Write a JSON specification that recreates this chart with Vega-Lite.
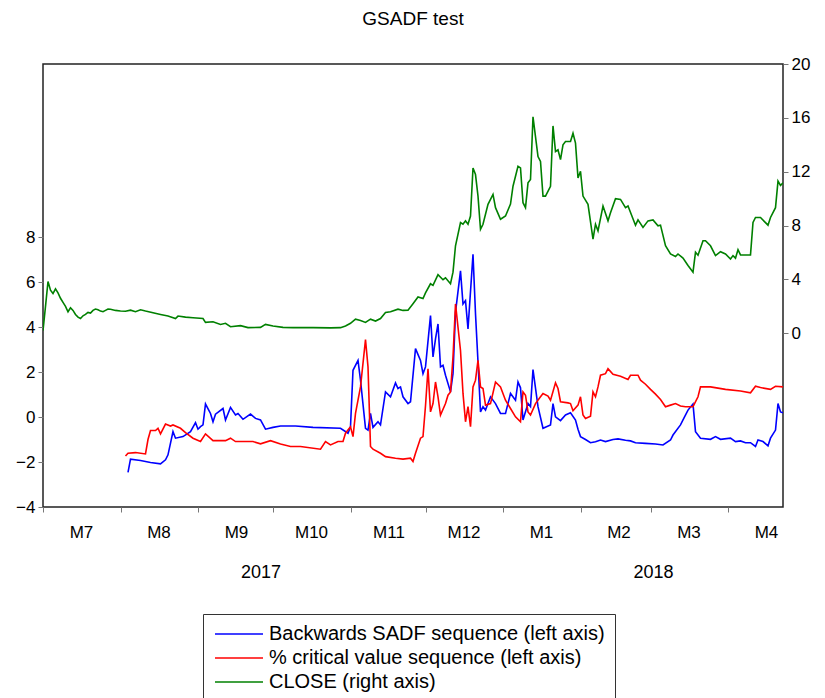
{
  "$schema": "https://vega.github.io/schema/vega-lite/v6.json",
  "width": 740,
  "height": 443,
  "autosize": "none",
  "padding": {"left": 43, "top": 64, "right": 42, "bottom": 191},
  "background": "white",
  "title": {"text": "GSADF test", "font": "Liberation Sans", "fontSize": 19, "fontWeight": "normal", "color": "black", "offset": 26, "anchor": "middle"},
  "datasets": {
    "left": [
      {"date": "2017-08-04", "series": "Backwards SADF sequence (left axis)", "value": -2.46},
      {"date": "2017-08-05", "series": "Backwards SADF sequence (left axis)", "value": -1.87},
      {"date": "2017-08-09", "series": "Backwards SADF sequence (left axis)", "value": -1.93},
      {"date": "2017-08-13", "series": "Backwards SADF sequence (left axis)", "value": -2.02},
      {"date": "2017-08-17", "series": "Backwards SADF sequence (left axis)", "value": -2.08},
      {"date": "2017-08-19", "series": "Backwards SADF sequence (left axis)", "value": -1.9},
      {"date": "2017-08-20", "series": "Backwards SADF sequence (left axis)", "value": -1.68},
      {"date": "2017-08-22", "series": "Backwards SADF sequence (left axis)", "value": -0.65},
      {"date": "2017-08-23", "series": "Backwards SADF sequence (left axis)", "value": -0.94},
      {"date": "2017-08-26", "series": "Backwards SADF sequence (left axis)", "value": -0.87},
      {"date": "2017-08-29", "series": "Backwards SADF sequence (left axis)", "value": -0.65},
      {"date": "2017-08-31", "series": "Backwards SADF sequence (left axis)", "value": -0.25},
      {"date": "2017-09-01", "series": "Backwards SADF sequence (left axis)", "value": -0.54},
      {"date": "2017-09-02", "series": "Backwards SADF sequence (left axis)", "value": -0.43},
      {"date": "2017-09-03", "series": "Backwards SADF sequence (left axis)", "value": -0.35},
      {"date": "2017-09-04", "series": "Backwards SADF sequence (left axis)", "value": 0.58},
      {"date": "2017-09-06", "series": "Backwards SADF sequence (left axis)", "value": 0.16},
      {"date": "2017-09-07", "series": "Backwards SADF sequence (left axis)", "value": -0.21},
      {"date": "2017-09-08", "series": "Backwards SADF sequence (left axis)", "value": 0.13},
      {"date": "2017-09-11", "series": "Backwards SADF sequence (left axis)", "value": 0.38},
      {"date": "2017-09-12", "series": "Backwards SADF sequence (left axis)", "value": -0.13},
      {"date": "2017-09-14", "series": "Backwards SADF sequence (left axis)", "value": 0.43},
      {"date": "2017-09-16", "series": "Backwards SADF sequence (left axis)", "value": 0.09},
      {"date": "2017-09-17", "series": "Backwards SADF sequence (left axis)", "value": 0.16},
      {"date": "2017-09-19", "series": "Backwards SADF sequence (left axis)", "value": -0.1},
      {"date": "2017-09-22", "series": "Backwards SADF sequence (left axis)", "value": 0.13},
      {"date": "2017-09-24", "series": "Backwards SADF sequence (left axis)", "value": -0.06},
      {"date": "2017-09-26", "series": "Backwards SADF sequence (left axis)", "value": -0.13},
      {"date": "2017-09-28", "series": "Backwards SADF sequence (left axis)", "value": -0.54},
      {"date": "2017-10-01", "series": "Backwards SADF sequence (left axis)", "value": -0.46},
      {"date": "2017-10-04", "series": "Backwards SADF sequence (left axis)", "value": -0.4},
      {"date": "2017-10-10", "series": "Backwards SADF sequence (left axis)", "value": -0.4},
      {"date": "2017-10-17", "series": "Backwards SADF sequence (left axis)", "value": -0.46},
      {"date": "2017-10-28", "series": "Backwards SADF sequence (left axis)", "value": -0.5},
      {"date": "2017-10-31", "series": "Backwards SADF sequence (left axis)", "value": -0.72},
      {"date": "2017-11-01", "series": "Backwards SADF sequence (left axis)", "value": -0.43},
      {"date": "2017-11-02", "series": "Backwards SADF sequence (left axis)", "value": 2.08},
      {"date": "2017-11-04", "series": "Backwards SADF sequence (left axis)", "value": 2.52},
      {"date": "2017-11-05", "series": "Backwards SADF sequence (left axis)", "value": 1.64},
      {"date": "2017-11-07", "series": "Backwards SADF sequence (left axis)", "value": -0.5},
      {"date": "2017-11-08", "series": "Backwards SADF sequence (left axis)", "value": -0.58},
      {"date": "2017-11-09", "series": "Backwards SADF sequence (left axis)", "value": 0.16},
      {"date": "2017-11-10", "series": "Backwards SADF sequence (left axis)", "value": -0.46},
      {"date": "2017-11-12", "series": "Backwards SADF sequence (left axis)", "value": -0.21},
      {"date": "2017-11-13", "series": "Backwards SADF sequence (left axis)", "value": -0.35},
      {"date": "2017-11-15", "series": "Backwards SADF sequence (left axis)", "value": 1.12},
      {"date": "2017-11-17", "series": "Backwards SADF sequence (left axis)", "value": 0.9},
      {"date": "2017-11-19", "series": "Backwards SADF sequence (left axis)", "value": 1.52},
      {"date": "2017-11-20", "series": "Backwards SADF sequence (left axis)", "value": 1.27},
      {"date": "2017-11-21", "series": "Backwards SADF sequence (left axis)", "value": 1.34},
      {"date": "2017-11-22", "series": "Backwards SADF sequence (left axis)", "value": 0.9},
      {"date": "2017-11-24", "series": "Backwards SADF sequence (left axis)", "value": 0.6},
      {"date": "2017-11-25", "series": "Backwards SADF sequence (left axis)", "value": 0.68},
      {"date": "2017-11-27", "series": "Backwards SADF sequence (left axis)", "value": 3.04},
      {"date": "2017-11-29", "series": "Backwards SADF sequence (left axis)", "value": 2.52},
      {"date": "2017-11-30", "series": "Backwards SADF sequence (left axis)", "value": 1.93},
      {"date": "2017-12-01", "series": "Backwards SADF sequence (left axis)", "value": 2.23},
      {"date": "2017-12-03", "series": "Backwards SADF sequence (left axis)", "value": 4.51},
      {"date": "2017-12-04", "series": "Backwards SADF sequence (left axis)", "value": 2.67},
      {"date": "2017-12-05", "series": "Backwards SADF sequence (left axis)", "value": 3.48},
      {"date": "2017-12-06", "series": "Backwards SADF sequence (left axis)", "value": 4.14},
      {"date": "2017-12-07", "series": "Backwards SADF sequence (left axis)", "value": 2.23},
      {"date": "2017-12-08", "series": "Backwards SADF sequence (left axis)", "value": 2.3},
      {"date": "2017-12-09", "series": "Backwards SADF sequence (left axis)", "value": 1.86},
      {"date": "2017-12-11", "series": "Backwards SADF sequence (left axis)", "value": 1.12},
      {"date": "2017-12-12", "series": "Backwards SADF sequence (left axis)", "value": 1.93},
      {"date": "2017-12-13", "series": "Backwards SADF sequence (left axis)", "value": 4.66},
      {"date": "2017-12-15", "series": "Backwards SADF sequence (left axis)", "value": 6.5},
      {"date": "2017-12-16", "series": "Backwards SADF sequence (left axis)", "value": 5.03},
      {"date": "2017-12-17", "series": "Backwards SADF sequence (left axis)", "value": 5.18},
      {"date": "2017-12-18", "series": "Backwards SADF sequence (left axis)", "value": 3.92},
      {"date": "2017-12-20", "series": "Backwards SADF sequence (left axis)", "value": 7.24},
      {"date": "2017-12-21", "series": "Backwards SADF sequence (left axis)", "value": 4.59},
      {"date": "2017-12-22", "series": "Backwards SADF sequence (left axis)", "value": 2.45},
      {"date": "2017-12-23", "series": "Backwards SADF sequence (left axis)", "value": 0.23},
      {"date": "2017-12-24", "series": "Backwards SADF sequence (left axis)", "value": 0.46},
      {"date": "2017-12-25", "series": "Backwards SADF sequence (left axis)", "value": 0.31},
      {"date": "2017-12-27", "series": "Backwards SADF sequence (left axis)", "value": 0.9},
      {"date": "2017-12-29", "series": "Backwards SADF sequence (left axis)", "value": 0.6},
      {"date": "2017-12-31", "series": "Backwards SADF sequence (left axis)", "value": 0.16},
      {"date": "2018-01-02", "series": "Backwards SADF sequence (left axis)", "value": 0.16},
      {"date": "2018-01-04", "series": "Backwards SADF sequence (left axis)", "value": 1.05},
      {"date": "2018-01-06", "series": "Backwards SADF sequence (left axis)", "value": 0.75},
      {"date": "2018-01-07", "series": "Backwards SADF sequence (left axis)", "value": 1.56},
      {"date": "2018-01-08", "series": "Backwards SADF sequence (left axis)", "value": 1.3},
      {"date": "2018-01-09", "series": "Backwards SADF sequence (left axis)", "value": -0.13},
      {"date": "2018-01-11", "series": "Backwards SADF sequence (left axis)", "value": 0.6},
      {"date": "2018-01-12", "series": "Backwards SADF sequence (left axis)", "value": 0.46},
      {"date": "2018-01-13", "series": "Backwards SADF sequence (left axis)", "value": 2.11},
      {"date": "2018-01-15", "series": "Backwards SADF sequence (left axis)", "value": 0.46},
      {"date": "2018-01-17", "series": "Backwards SADF sequence (left axis)", "value": -0.5},
      {"date": "2018-01-20", "series": "Backwards SADF sequence (left axis)", "value": -0.35},
      {"date": "2018-01-21", "series": "Backwards SADF sequence (left axis)", "value": 0.6},
      {"date": "2018-01-22", "series": "Backwards SADF sequence (left axis)", "value": 0.01},
      {"date": "2018-01-24", "series": "Backwards SADF sequence (left axis)", "value": -0.16},
      {"date": "2018-01-26", "series": "Backwards SADF sequence (left axis)", "value": 0.09},
      {"date": "2018-01-28", "series": "Backwards SADF sequence (left axis)", "value": 0.19},
      {"date": "2018-01-30", "series": "Backwards SADF sequence (left axis)", "value": -0.13},
      {"date": "2018-01-31", "series": "Backwards SADF sequence (left axis)", "value": -0.54},
      {"date": "2018-02-01", "series": "Backwards SADF sequence (left axis)", "value": -0.87},
      {"date": "2018-02-03", "series": "Backwards SADF sequence (left axis)", "value": -1.0},
      {"date": "2018-02-05", "series": "Backwards SADF sequence (left axis)", "value": -1.14},
      {"date": "2018-02-07", "series": "Backwards SADF sequence (left axis)", "value": -1.1},
      {"date": "2018-02-09", "series": "Backwards SADF sequence (left axis)", "value": -1.02},
      {"date": "2018-02-11", "series": "Backwards SADF sequence (left axis)", "value": -1.09},
      {"date": "2018-02-14", "series": "Backwards SADF sequence (left axis)", "value": -1.0},
      {"date": "2018-02-16", "series": "Backwards SADF sequence (left axis)", "value": -0.97},
      {"date": "2018-02-19", "series": "Backwards SADF sequence (left axis)", "value": -1.03},
      {"date": "2018-02-21", "series": "Backwards SADF sequence (left axis)", "value": -1.06},
      {"date": "2018-02-23", "series": "Backwards SADF sequence (left axis)", "value": -1.14},
      {"date": "2018-02-27", "series": "Backwards SADF sequence (left axis)", "value": -1.17},
      {"date": "2018-03-03", "series": "Backwards SADF sequence (left axis)", "value": -1.2},
      {"date": "2018-03-06", "series": "Backwards SADF sequence (left axis)", "value": -1.24},
      {"date": "2018-03-09", "series": "Backwards SADF sequence (left axis)", "value": -1.02},
      {"date": "2018-03-10", "series": "Backwards SADF sequence (left axis)", "value": -0.8},
      {"date": "2018-03-13", "series": "Backwards SADF sequence (left axis)", "value": -0.35},
      {"date": "2018-03-14", "series": "Backwards SADF sequence (left axis)", "value": -0.13},
      {"date": "2018-03-16", "series": "Backwards SADF sequence (left axis)", "value": 0.31},
      {"date": "2018-03-18", "series": "Backwards SADF sequence (left axis)", "value": 0.58},
      {"date": "2018-03-19", "series": "Backwards SADF sequence (left axis)", "value": -0.65},
      {"date": "2018-03-21", "series": "Backwards SADF sequence (left axis)", "value": -0.94},
      {"date": "2018-03-25", "series": "Backwards SADF sequence (left axis)", "value": -0.99},
      {"date": "2018-03-27", "series": "Backwards SADF sequence (left axis)", "value": -0.87},
      {"date": "2018-03-29", "series": "Backwards SADF sequence (left axis)", "value": -0.99},
      {"date": "2018-04-02", "series": "Backwards SADF sequence (left axis)", "value": -0.94},
      {"date": "2018-04-04", "series": "Backwards SADF sequence (left axis)", "value": -1.09},
      {"date": "2018-04-06", "series": "Backwards SADF sequence (left axis)", "value": -1.06},
      {"date": "2018-04-08", "series": "Backwards SADF sequence (left axis)", "value": -1.14},
      {"date": "2018-04-10", "series": "Backwards SADF sequence (left axis)", "value": -1.14},
      {"date": "2018-04-12", "series": "Backwards SADF sequence (left axis)", "value": -1.31},
      {"date": "2018-04-13", "series": "Backwards SADF sequence (left axis)", "value": -1.02},
      {"date": "2018-04-15", "series": "Backwards SADF sequence (left axis)", "value": -1.09},
      {"date": "2018-04-17", "series": "Backwards SADF sequence (left axis)", "value": -1.28},
      {"date": "2018-04-18", "series": "Backwards SADF sequence (left axis)", "value": -0.94},
      {"date": "2018-04-20", "series": "Backwards SADF sequence (left axis)", "value": -0.58},
      {"date": "2018-04-21", "series": "Backwards SADF sequence (left axis)", "value": 0.6},
      {"date": "2018-04-22", "series": "Backwards SADF sequence (left axis)", "value": 0.23},
      {"date": "2018-04-23", "series": "Backwards SADF sequence (left axis)", "value": 0.19},
      {"date": "2017-08-03", "series": "% critical value sequence (left axis)", "value": -1.73},
      {"date": "2017-08-04", "series": "% critical value sequence (left axis)", "value": -1.61},
      {"date": "2017-08-07", "series": "% critical value sequence (left axis)", "value": -1.58},
      {"date": "2017-08-11", "series": "% critical value sequence (left axis)", "value": -1.64},
      {"date": "2017-08-12", "series": "% critical value sequence (left axis)", "value": -1.0},
      {"date": "2017-08-13", "series": "% critical value sequence (left axis)", "value": -0.6},
      {"date": "2017-08-15", "series": "% critical value sequence (left axis)", "value": -0.6},
      {"date": "2017-08-16", "series": "% critical value sequence (left axis)", "value": -0.5},
      {"date": "2017-08-17", "series": "% critical value sequence (left axis)", "value": -0.75},
      {"date": "2017-08-19", "series": "% critical value sequence (left axis)", "value": -0.31},
      {"date": "2017-08-21", "series": "% critical value sequence (left axis)", "value": -0.4},
      {"date": "2017-08-22", "series": "% critical value sequence (left axis)", "value": -0.35},
      {"date": "2017-08-25", "series": "% critical value sequence (left axis)", "value": -0.5},
      {"date": "2017-08-27", "series": "% critical value sequence (left axis)", "value": -0.69},
      {"date": "2017-08-30", "series": "% critical value sequence (left axis)", "value": -0.94},
      {"date": "2017-09-02", "series": "% critical value sequence (left axis)", "value": -1.09},
      {"date": "2017-09-04", "series": "% critical value sequence (left axis)", "value": -0.75},
      {"date": "2017-09-07", "series": "% critical value sequence (left axis)", "value": -1.05},
      {"date": "2017-09-12", "series": "% critical value sequence (left axis)", "value": -1.05},
      {"date": "2017-09-14", "series": "% critical value sequence (left axis)", "value": -0.94},
      {"date": "2017-09-16", "series": "% critical value sequence (left axis)", "value": -1.09},
      {"date": "2017-09-23", "series": "% critical value sequence (left axis)", "value": -1.09},
      {"date": "2017-09-26", "series": "% critical value sequence (left axis)", "value": -1.19},
      {"date": "2017-09-30", "series": "% critical value sequence (left axis)", "value": -1.05},
      {"date": "2017-10-04", "series": "% critical value sequence (left axis)", "value": -1.2},
      {"date": "2017-10-08", "series": "% critical value sequence (left axis)", "value": -1.31},
      {"date": "2017-10-12", "series": "% critical value sequence (left axis)", "value": -1.31},
      {"date": "2017-10-20", "series": "% critical value sequence (left axis)", "value": -1.43},
      {"date": "2017-10-22", "series": "% critical value sequence (left axis)", "value": -1.09},
      {"date": "2017-10-24", "series": "% critical value sequence (left axis)", "value": -1.24},
      {"date": "2017-10-27", "series": "% critical value sequence (left axis)", "value": -1.09},
      {"date": "2017-10-29", "series": "% critical value sequence (left axis)", "value": -1.09},
      {"date": "2017-10-30", "series": "% critical value sequence (left axis)", "value": -0.72},
      {"date": "2017-11-01", "series": "% critical value sequence (left axis)", "value": -0.43},
      {"date": "2017-11-02", "series": "% critical value sequence (left axis)", "value": -0.87},
      {"date": "2017-11-03", "series": "% critical value sequence (left axis)", "value": 0.16},
      {"date": "2017-11-05", "series": "% critical value sequence (left axis)", "value": 1.34},
      {"date": "2017-11-07", "series": "% critical value sequence (left axis)", "value": 3.44},
      {"date": "2017-11-08", "series": "% critical value sequence (left axis)", "value": 2.23},
      {"date": "2017-11-09", "series": "% critical value sequence (left axis)", "value": -1.31},
      {"date": "2017-11-10", "series": "% critical value sequence (left axis)", "value": -1.43},
      {"date": "2017-11-13", "series": "% critical value sequence (left axis)", "value": -1.61},
      {"date": "2017-11-15", "series": "% critical value sequence (left axis)", "value": -1.76},
      {"date": "2017-11-19", "series": "% critical value sequence (left axis)", "value": -1.83},
      {"date": "2017-11-22", "series": "% critical value sequence (left axis)", "value": -1.87},
      {"date": "2017-11-25", "series": "% critical value sequence (left axis)", "value": -1.83},
      {"date": "2017-11-26", "series": "% critical value sequence (left axis)", "value": -1.98},
      {"date": "2017-11-27", "series": "% critical value sequence (left axis)", "value": -1.61},
      {"date": "2017-11-29", "series": "% critical value sequence (left axis)", "value": -0.94},
      {"date": "2017-11-30", "series": "% critical value sequence (left axis)", "value": -0.87},
      {"date": "2017-12-01", "series": "% critical value sequence (left axis)", "value": 0.5},
      {"date": "2017-12-02", "series": "% critical value sequence (left axis)", "value": 2.15},
      {"date": "2017-12-03", "series": "% critical value sequence (left axis)", "value": 0.23},
      {"date": "2017-12-04", "series": "% critical value sequence (left axis)", "value": 0.6},
      {"date": "2017-12-05", "series": "% critical value sequence (left axis)", "value": 1.56},
      {"date": "2017-12-06", "series": "% critical value sequence (left axis)", "value": 0.9},
      {"date": "2017-12-07", "series": "% critical value sequence (left axis)", "value": 0.09},
      {"date": "2017-12-09", "series": "% critical value sequence (left axis)", "value": 0.6},
      {"date": "2017-12-10", "series": "% critical value sequence (left axis)", "value": 0.97},
      {"date": "2017-12-11", "series": "% critical value sequence (left axis)", "value": 1.12},
      {"date": "2017-12-12", "series": "% critical value sequence (left axis)", "value": 2.67},
      {"date": "2017-12-13", "series": "% critical value sequence (left axis)", "value": 5.03},
      {"date": "2017-12-15", "series": "% critical value sequence (left axis)", "value": 2.96},
      {"date": "2017-12-16", "series": "% critical value sequence (left axis)", "value": 1.05},
      {"date": "2017-12-17", "series": "% critical value sequence (left axis)", "value": -0.21},
      {"date": "2017-12-18", "series": "% critical value sequence (left axis)", "value": 0.46},
      {"date": "2017-12-19", "series": "% critical value sequence (left axis)", "value": -0.43},
      {"date": "2017-12-20", "series": "% critical value sequence (left axis)", "value": 1.34},
      {"date": "2017-12-21", "series": "% critical value sequence (left axis)", "value": 1.64},
      {"date": "2017-12-22", "series": "% critical value sequence (left axis)", "value": 2.52},
      {"date": "2017-12-23", "series": "% critical value sequence (left axis)", "value": 1.34},
      {"date": "2017-12-24", "series": "% critical value sequence (left axis)", "value": 1.27},
      {"date": "2017-12-25", "series": "% critical value sequence (left axis)", "value": 0.53},
      {"date": "2017-12-27", "series": "% critical value sequence (left axis)", "value": 0.6},
      {"date": "2017-12-29", "series": "% critical value sequence (left axis)", "value": 1.56},
      {"date": "2017-12-31", "series": "% critical value sequence (left axis)", "value": 1.34},
      {"date": "2018-01-02", "series": "% critical value sequence (left axis)", "value": 0.75},
      {"date": "2018-01-04", "series": "% critical value sequence (left axis)", "value": 0.38},
      {"date": "2018-01-06", "series": "% critical value sequence (left axis)", "value": 0.01},
      {"date": "2018-01-08", "series": "% critical value sequence (left axis)", "value": -0.21},
      {"date": "2018-01-09", "series": "% critical value sequence (left axis)", "value": 1.12},
      {"date": "2018-01-10", "series": "% critical value sequence (left axis)", "value": 0.97},
      {"date": "2018-01-11", "series": "% critical value sequence (left axis)", "value": 0.23},
      {"date": "2018-01-12", "series": "% critical value sequence (left axis)", "value": 0.09},
      {"date": "2018-01-14", "series": "% critical value sequence (left axis)", "value": 0.6},
      {"date": "2018-01-16", "series": "% critical value sequence (left axis)", "value": 0.9},
      {"date": "2018-01-17", "series": "% critical value sequence (left axis)", "value": 1.05},
      {"date": "2018-01-19", "series": "% critical value sequence (left axis)", "value": 0.93},
      {"date": "2018-01-20", "series": "% critical value sequence (left axis)", "value": 0.75},
      {"date": "2018-01-22", "series": "% critical value sequence (left axis)", "value": 1.52},
      {"date": "2018-01-23", "series": "% critical value sequence (left axis)", "value": 1.27},
      {"date": "2018-01-24", "series": "% critical value sequence (left axis)", "value": 0.68},
      {"date": "2018-01-27", "series": "% critical value sequence (left axis)", "value": 0.63},
      {"date": "2018-01-28", "series": "% critical value sequence (left axis)", "value": 0.6},
      {"date": "2018-01-29", "series": "% critical value sequence (left axis)", "value": 0.28},
      {"date": "2018-01-31", "series": "% critical value sequence (left axis)", "value": 0.53},
      {"date": "2018-02-01", "series": "% critical value sequence (left axis)", "value": 0.9},
      {"date": "2018-02-02", "series": "% critical value sequence (left axis)", "value": 0.09},
      {"date": "2018-02-03", "series": "% critical value sequence (left axis)", "value": -0.06},
      {"date": "2018-02-05", "series": "% critical value sequence (left axis)", "value": 0.04},
      {"date": "2018-02-06", "series": "% critical value sequence (left axis)", "value": 1.12},
      {"date": "2018-02-07", "series": "% critical value sequence (left axis)", "value": 0.9},
      {"date": "2018-02-08", "series": "% critical value sequence (left axis)", "value": 1.34},
      {"date": "2018-02-09", "series": "% critical value sequence (left axis)", "value": 1.86},
      {"date": "2018-02-11", "series": "% critical value sequence (left axis)", "value": 1.93},
      {"date": "2018-02-12", "series": "% critical value sequence (left axis)", "value": 2.15},
      {"date": "2018-02-14", "series": "% critical value sequence (left axis)", "value": 1.9},
      {"date": "2018-02-17", "series": "% critical value sequence (left axis)", "value": 1.81},
      {"date": "2018-02-20", "series": "% critical value sequence (left axis)", "value": 1.67},
      {"date": "2018-02-21", "series": "% critical value sequence (left axis)", "value": 1.86},
      {"date": "2018-02-24", "series": "% critical value sequence (left axis)", "value": 1.86},
      {"date": "2018-02-25", "series": "% critical value sequence (left axis)", "value": 1.64},
      {"date": "2018-02-27", "series": "% critical value sequence (left axis)", "value": 1.46},
      {"date": "2018-03-01", "series": "% critical value sequence (left axis)", "value": 1.23},
      {"date": "2018-03-03", "series": "% critical value sequence (left axis)", "value": 1.02},
      {"date": "2018-03-05", "series": "% critical value sequence (left axis)", "value": 0.78},
      {"date": "2018-03-07", "series": "% critical value sequence (left axis)", "value": 0.46},
      {"date": "2018-03-09", "series": "% critical value sequence (left axis)", "value": 0.53},
      {"date": "2018-03-11", "series": "% critical value sequence (left axis)", "value": 0.6},
      {"date": "2018-03-13", "series": "% critical value sequence (left axis)", "value": 0.49},
      {"date": "2018-03-15", "series": "% critical value sequence (left axis)", "value": 0.46},
      {"date": "2018-03-18", "series": "% critical value sequence (left axis)", "value": 0.46},
      {"date": "2018-03-20", "series": "% critical value sequence (left axis)", "value": 0.9},
      {"date": "2018-03-21", "series": "% critical value sequence (left axis)", "value": 1.34},
      {"date": "2018-03-25", "series": "% critical value sequence (left axis)", "value": 1.34},
      {"date": "2018-03-31", "series": "% critical value sequence (left axis)", "value": 1.23},
      {"date": "2018-04-06", "series": "% critical value sequence (left axis)", "value": 1.16},
      {"date": "2018-04-10", "series": "% critical value sequence (left axis)", "value": 1.08},
      {"date": "2018-04-12", "series": "% critical value sequence (left axis)", "value": 1.37},
      {"date": "2018-04-14", "series": "% critical value sequence (left axis)", "value": 1.31},
      {"date": "2018-04-18", "series": "% critical value sequence (left axis)", "value": 1.23},
      {"date": "2018-04-20", "series": "% critical value sequence (left axis)", "value": 1.37},
      {"date": "2018-04-23", "series": "% critical value sequence (left axis)", "value": 1.34}
    ],
    "close": [
      {"date": "2017-07-01", "close": 0.2},
      {"date": "2017-07-02", "close": 2.0},
      {"date": "2017-07-03", "close": 3.85},
      {"date": "2017-07-04", "close": 3.2},
      {"date": "2017-07-05", "close": 2.95},
      {"date": "2017-07-06", "close": 3.3},
      {"date": "2017-07-07", "close": 3.0},
      {"date": "2017-07-08", "close": 2.6},
      {"date": "2017-07-09", "close": 2.3},
      {"date": "2017-07-10", "close": 2.0},
      {"date": "2017-07-11", "close": 1.6},
      {"date": "2017-07-12", "close": 1.9},
      {"date": "2017-07-13", "close": 1.7},
      {"date": "2017-07-14", "close": 1.4},
      {"date": "2017-07-15", "close": 1.2},
      {"date": "2017-07-16", "close": 1.1},
      {"date": "2017-07-17", "close": 1.3},
      {"date": "2017-07-18", "close": 1.4},
      {"date": "2017-07-19", "close": 1.55},
      {"date": "2017-07-20", "close": 1.5},
      {"date": "2017-07-21", "close": 1.7},
      {"date": "2017-07-22", "close": 1.8},
      {"date": "2017-07-23", "close": 1.75},
      {"date": "2017-07-24", "close": 1.65},
      {"date": "2017-07-25", "close": 1.6},
      {"date": "2017-07-26", "close": 1.7},
      {"date": "2017-07-27", "close": 1.8},
      {"date": "2017-07-28", "close": 1.79},
      {"date": "2017-07-30", "close": 1.7},
      {"date": "2017-08-01", "close": 1.66},
      {"date": "2017-08-03", "close": 1.64},
      {"date": "2017-08-05", "close": 1.72},
      {"date": "2017-08-07", "close": 1.6},
      {"date": "2017-08-09", "close": 1.75},
      {"date": "2017-08-11", "close": 1.65},
      {"date": "2017-08-14", "close": 1.52},
      {"date": "2017-08-17", "close": 1.4},
      {"date": "2017-08-20", "close": 1.28},
      {"date": "2017-08-23", "close": 1.1},
      {"date": "2017-08-24", "close": 1.28},
      {"date": "2017-08-27", "close": 1.2},
      {"date": "2017-08-30", "close": 1.16},
      {"date": "2017-09-03", "close": 1.1},
      {"date": "2017-09-04", "close": 0.81},
      {"date": "2017-09-07", "close": 0.86},
      {"date": "2017-09-10", "close": 0.66},
      {"date": "2017-09-12", "close": 0.74},
      {"date": "2017-09-14", "close": 0.49},
      {"date": "2017-09-18", "close": 0.57},
      {"date": "2017-09-21", "close": 0.42},
      {"date": "2017-09-26", "close": 0.44},
      {"date": "2017-09-28", "close": 0.66},
      {"date": "2017-10-01", "close": 0.54},
      {"date": "2017-10-05", "close": 0.44},
      {"date": "2017-10-09", "close": 0.42},
      {"date": "2017-10-17", "close": 0.42},
      {"date": "2017-10-24", "close": 0.4},
      {"date": "2017-10-28", "close": 0.42},
      {"date": "2017-10-30", "close": 0.55},
      {"date": "2017-11-01", "close": 0.74},
      {"date": "2017-11-03", "close": 1.05},
      {"date": "2017-11-05", "close": 0.95},
      {"date": "2017-11-07", "close": 0.81},
      {"date": "2017-11-09", "close": 1.05},
      {"date": "2017-11-11", "close": 0.91},
      {"date": "2017-11-13", "close": 1.1},
      {"date": "2017-11-15", "close": 1.55},
      {"date": "2017-11-17", "close": 1.6},
      {"date": "2017-11-20", "close": 1.79},
      {"date": "2017-11-22", "close": 1.7},
      {"date": "2017-11-24", "close": 1.72},
      {"date": "2017-11-26", "close": 2.2},
      {"date": "2017-11-28", "close": 2.7},
      {"date": "2017-11-30", "close": 2.58},
      {"date": "2017-12-01", "close": 3.0},
      {"date": "2017-12-03", "close": 3.68},
      {"date": "2017-12-04", "close": 3.56},
      {"date": "2017-12-06", "close": 4.35},
      {"date": "2017-12-08", "close": 3.98},
      {"date": "2017-12-09", "close": 4.12},
      {"date": "2017-12-11", "close": 3.68},
      {"date": "2017-12-12", "close": 4.54},
      {"date": "2017-12-13", "close": 6.5},
      {"date": "2017-12-15", "close": 8.23},
      {"date": "2017-12-16", "close": 8.1},
      {"date": "2017-12-17", "close": 8.35},
      {"date": "2017-12-18", "close": 8.1},
      {"date": "2017-12-19", "close": 8.71},
      {"date": "2017-12-20", "close": 12.28},
      {"date": "2017-12-21", "close": 11.79},
      {"date": "2017-12-22", "close": 10.19},
      {"date": "2017-12-23", "close": 7.73},
      {"date": "2017-12-24", "close": 8.1},
      {"date": "2017-12-26", "close": 9.58},
      {"date": "2017-12-28", "close": 10.31},
      {"date": "2017-12-29", "close": 9.33},
      {"date": "2017-12-31", "close": 8.47},
      {"date": "2018-01-02", "close": 8.71},
      {"date": "2018-01-04", "close": 9.6},
      {"date": "2018-01-05", "close": 10.92},
      {"date": "2018-01-07", "close": 12.4},
      {"date": "2018-01-08", "close": 12.28},
      {"date": "2018-01-09", "close": 9.7},
      {"date": "2018-01-10", "close": 9.33},
      {"date": "2018-01-11", "close": 11.17},
      {"date": "2018-01-12", "close": 11.42},
      {"date": "2018-01-13", "close": 16.08},
      {"date": "2018-01-15", "close": 13.13},
      {"date": "2018-01-16", "close": 12.77},
      {"date": "2018-01-17", "close": 10.19},
      {"date": "2018-01-18", "close": 10.19},
      {"date": "2018-01-20", "close": 10.92},
      {"date": "2018-01-21", "close": 15.4},
      {"date": "2018-01-22", "close": 13.5},
      {"date": "2018-01-23", "close": 13.63},
      {"date": "2018-01-24", "close": 12.9},
      {"date": "2018-01-25", "close": 14.0},
      {"date": "2018-01-26", "close": 14.24},
      {"date": "2018-01-28", "close": 14.24},
      {"date": "2018-01-29", "close": 14.86},
      {"date": "2018-01-30", "close": 14.12},
      {"date": "2018-01-31", "close": 11.54},
      {"date": "2018-02-01", "close": 12.03},
      {"date": "2018-02-02", "close": 10.19},
      {"date": "2018-02-04", "close": 9.58},
      {"date": "2018-02-06", "close": 7.0},
      {"date": "2018-02-07", "close": 8.1},
      {"date": "2018-02-08", "close": 7.61},
      {"date": "2018-02-10", "close": 9.45},
      {"date": "2018-02-12", "close": 8.35},
      {"date": "2018-02-13", "close": 8.96},
      {"date": "2018-02-15", "close": 10.0},
      {"date": "2018-02-17", "close": 9.94},
      {"date": "2018-02-19", "close": 9.33},
      {"date": "2018-02-20", "close": 9.45},
      {"date": "2018-02-23", "close": 8.03},
      {"date": "2018-02-24", "close": 8.42},
      {"date": "2018-02-26", "close": 7.86},
      {"date": "2018-02-28", "close": 8.35},
      {"date": "2018-03-02", "close": 8.42},
      {"date": "2018-03-04", "close": 7.98},
      {"date": "2018-03-05", "close": 8.03},
      {"date": "2018-03-07", "close": 6.5},
      {"date": "2018-03-09", "close": 5.89},
      {"date": "2018-03-11", "close": 5.7},
      {"date": "2018-03-12", "close": 5.89},
      {"date": "2018-03-14", "close": 5.58},
      {"date": "2018-03-16", "close": 5.03},
      {"date": "2018-03-18", "close": 4.54},
      {"date": "2018-03-19", "close": 6.02},
      {"date": "2018-03-20", "close": 5.8},
      {"date": "2018-03-22", "close": 6.87},
      {"date": "2018-03-23", "close": 6.87},
      {"date": "2018-03-25", "close": 6.5},
      {"date": "2018-03-27", "close": 5.77},
      {"date": "2018-03-29", "close": 6.06},
      {"date": "2018-03-31", "close": 5.89},
      {"date": "2018-04-02", "close": 5.52},
      {"date": "2018-04-03", "close": 5.77},
      {"date": "2018-04-04", "close": 5.58},
      {"date": "2018-04-05", "close": 6.21},
      {"date": "2018-04-06", "close": 5.82},
      {"date": "2018-04-10", "close": 5.82},
      {"date": "2018-04-11", "close": 8.23},
      {"date": "2018-04-12", "close": 8.6},
      {"date": "2018-04-14", "close": 8.6},
      {"date": "2018-04-17", "close": 8.03},
      {"date": "2018-04-18", "close": 8.6},
      {"date": "2018-04-20", "close": 9.33},
      {"date": "2018-04-21", "close": 11.3},
      {"date": "2018-04-22", "close": 10.98},
      {"date": "2018-04-23", "close": 11.17}
    ]
  },
  "layer": [
    {
      "data": {"name": "left"},
      "mark": {"type": "line", "strokeWidth": 1.6, "clip": true},
      "encoding": {
        "x": {
          "field": "date", "type": "temporal",
          "scale": {"type": "utc", "domain": [{"year": 2017, "month": 7, "date": 1, "utc": true}, {"year": 2018, "month": 4, "date": 23, "utc": true}]},
          "axis": {
            "orient": "bottom",
            "title": null,
            "grid": false,
            "domain": false,
            "values": [
              {"year": 2017, "month": 7, "date": 1, "utc": true},
              {"year": 2017, "month": 8, "date": 1, "utc": true},
              {"year": 2017, "month": 9, "date": 1, "utc": true},
              {"year": 2017, "month": 10, "date": 1, "utc": true},
              {"year": 2017, "month": 11, "date": 1, "utc": true},
              {"year": 2017, "month": 12, "date": 1, "utc": true},
              {"year": 2018, "month": 1, "date": 1, "utc": true},
              {"year": 2018, "month": 2, "date": 1, "utc": true},
              {"year": 2018, "month": 3, "date": 1, "utc": true},
              {"year": 2018, "month": 4, "date": 1, "utc": true}
            ],
            "labelExpr": "'M' + (utcmonth(datum.value) + 1)",
            "labelOffset": 38,
            "labelAlign": "center",
            "labelOverlap": false,
            "labelFlush": false,
            "labelBound": false,
            "tickSize": 5,
            "tickColor": "#777777",
            "labelPadding": 12,
            "labelFont": "Liberation Sans",
            "labelFontSize": 17,
            "labelColor": "black"
          }
        },
        "y": {
          "field": "value", "type": "quantitative",
          "scale": {"domain": [-4, 15.7], "nice": false, "zero": false},
          "axis": {
            "orient": "left",
            "title": null,
            "grid": false,
            "domain": false,
            "values": [-4, -2, 0, 2, 4, 6, 8],
            "tickSize": 5,
            "tickColor": "#777777",
            "labelPadding": 3,
            "labelFont": "Liberation Sans",
            "labelFontSize": 17,
            "labelColor": "black"
          }
        },
        "color": {
          "field": "series", "type": "nominal",
          "scale": {
            "domain": ["Backwards SADF sequence (left axis)", "% critical value sequence (left axis)", "CLOSE (right axis)"],
            "range": ["#0000ff", "#ff0000", "#008000"]
          },
          "legend": {
            "title": null,
            "orient": "none",
            "legendX": 160,
            "legendY": 550,
            "direction": "vertical",
            "strokeColor": "#333333",
            "fillColor": "white",
            "padding": 10,
            "symbolType": "M-3,0H3",
            "symbolSize": 256,
            "symbolStrokeWidth": 1.5,
            "symbolOffset": 16,
            "labelFont": "Liberation Sans",
            "labelFontSize": 20,
            "labelColor": "black",
            "labelLimit": 0,
            "labelOffset": 20,
            "rowPadding": 4
          }
        }
      }
    },
    {
      "data": {"name": "close"},
      "mark": {"type": "line", "strokeWidth": 1.6, "clip": true},
      "encoding": {
        "x": {
          "field": "date", "type": "temporal",
          "axis": {
            "orient": "bottom",
            "title": null,
            "grid": false,
            "domain": false,
            "ticks": false,
            "offset": 50,
            "values": [
              {"year": 2017, "month": 9, "date": 26, "utc": true},
              {"year": 2018, "month": 3, "date": 2, "utc": true}
            ],
            "labelExpr": "'' + utcyear(datum.value)",
            "labelAlign": "center",
            "labelOverlap": false,
            "labelFlush": false,
            "labelPadding": 6,
            "labelFont": "Liberation Sans",
            "labelFontSize": 18,
            "labelColor": "black"
          }
        },
        "y": {
          "field": "close", "type": "quantitative",
          "scale": {"domain": [-12.9, 20], "nice": false, "zero": false},
          "axis": {
            "orient": "right",
            "title": null,
            "grid": false,
            "domain": false,
            "values": [0, 4, 8, 12, 16, 20],
            "tickSize": 5,
            "tickColor": "#777777",
            "labelPadding": 3,
            "labelFont": "Liberation Sans",
            "labelFontSize": 17,
            "labelColor": "black"
          }
        },
        "color": {"datum": "CLOSE (right axis)"}
      }
    }
  ],
  "resolve": {"scale": {"y": "independent"}, "axis": {"x": "independent"}},
  "config": {
    "view": {"stroke": "#222222", "strokeWidth": 1.5}
  }
}
